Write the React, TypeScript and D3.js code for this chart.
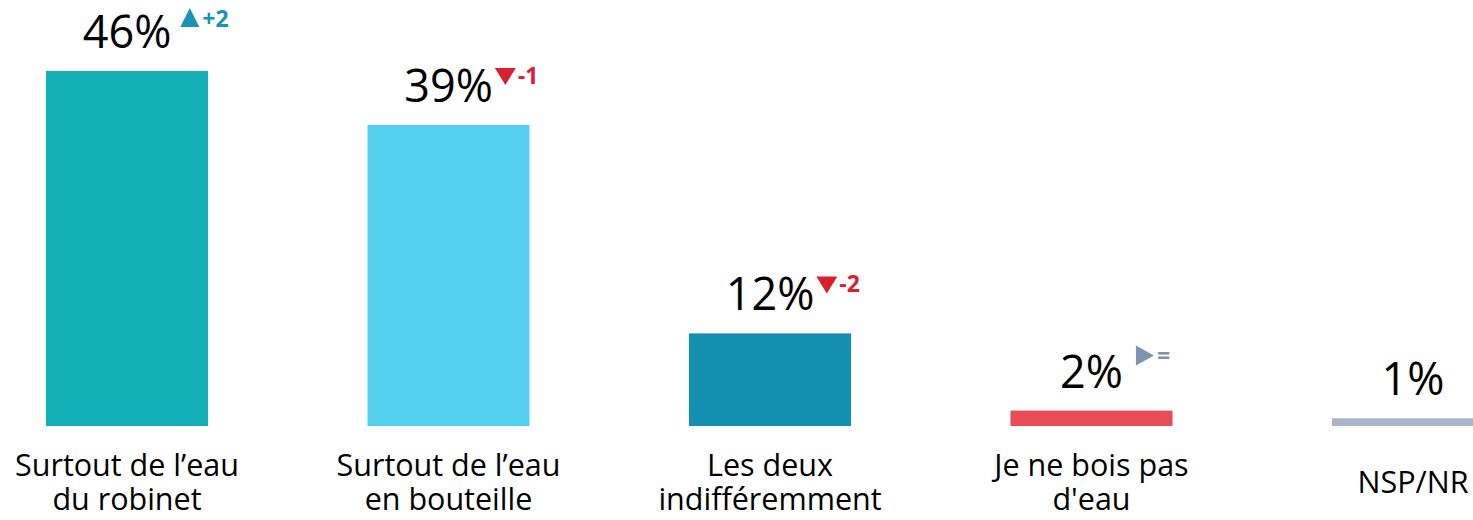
import { useMemo } from "react";
import * as d3 from "d3";

const WIDTH = 1473;
const HEIGHT = 520;

// data
const categories = [
  ["Surtout de l’eau", "du robinet"],
  ["Surtout de l’eau", "en bouteille"],
  ["Les deux", "indifféremment"],
  ["Je ne bois pas", "d'eau"],
  ["NSP/NR"],
];
const values = [46, 39, 12, 2, 1];
const deltas = ["+2", "-1", "-2", "=", null];
const trends = ["up", "down", "down", "flat", null];
const barColors = ["#14afb6", "#54d0ee", "#158fb0", "#e84c57", "#a9b5ca"];

const TREND_COLOR: Record<string, string> = { up: "#1a93b5", down: "#d9202e", flat: "#7f93b1" };
const FONT = "'Open Sans', 'Noto Sans', sans-serif";
const VALUE_SIZE = 45;
const CAT_SIZE = 30.5;

function measure(text: string, font: string) {
  const ctx = document.createElement("canvas").getContext("2d");
  if (!ctx) return text.length * 20;
  ctx.font = font;
  return ctx.measureText(text).width;
}

export default function App() {
  const names = categories.map((c) => c.join(" "));
  const step = 321.5;
  const x = d3
    .scaleBand()
    .domain(names)
    .range([127 - step / 2, 127 - step / 2 + step * names.length])
    .paddingInner(0.496)
    .paddingOuter(0.248);
  const y = d3.scaleLinear().domain([0, 46]).range([426, 71]);

  const labelWidths = useMemo(
    () => values.map((v) => measure(`${v}%`, `${VALUE_SIZE}px 'Open Sans'`)),
    []
  );

  return (
    <div style={{ position: "absolute", left: 0, top: 0 }}>
      <svg width={WIDTH} height={HEIGHT} style={{ display: "block", background: "#fff" }}>
        {values.map((v, i) => {
          const x0 = x(names[i]) ?? 0;
          const cx = x0 + x.bandwidth() / 2;
          const top = y(v);
          const base = top - 23;
          const right = cx + labelWidths[i] / 2;
          const trend = trends[i];
          let marker = null;
          if (trend) {
            const col = TREND_COLOR[trend];
            let tri = "";
            let tx = 0;
            let ty = 0;
            if (trend === "up") {
              const l = right + 9, t = base - 40;
              tri = `M${l},${t + 19}L${l + 9.5},${t}L${l + 19},${t + 19}Z`;
              tx = l + 22; ty = base - 21;
            } else if (trend === "down") {
              const l = right + 2, t = base - 34;
              tri = `M${l},${t}L${l + 21},${t}L${l + 10.5},${t + 17}Z`;
              tx = l + 23; ty = base - 18;
            } else {
              const l = right + 13, t = base - 42;
              tri = `M${l},${t}L${l + 18},${t + 10}L${l},${t + 20}Z`;
              tx = l + 21; ty = base - 24;
            }
            marker = (
              <g>
                <path d={tri} fill={col} />
                <text x={tx} y={ty} fill={col} fontFamily={FONT} fontSize={23} fontWeight={700}>
                  {deltas[i]}
                </text>
              </g>
            );
          }
          const lines = categories[i];
          const lineH = 34.5;
          const firstBase = 493 - ((lines.length - 1) * lineH) / 2;
          return (
            <g key={i}>
              <rect x={x0} y={top} width={x.bandwidth()} height={426 - top} fill={barColors[i]} />
              <text x={cx} y={base} textAnchor="middle" fontFamily={FONT} fontSize={VALUE_SIZE} fill="#000">
                {v}%
              </text>
              {marker}
              {lines.map((ln, j) => (
                <text
                  key={j}
                  x={cx}
                  y={firstBase + j * lineH}
                  textAnchor="middle"
                  fontFamily={FONT}
                  fontSize={CAT_SIZE}
                  fill="#000"
                >
                  {ln}
                </text>
              ))}
            </g>
          );
        })}
      </svg>
    </div>
  );
}
